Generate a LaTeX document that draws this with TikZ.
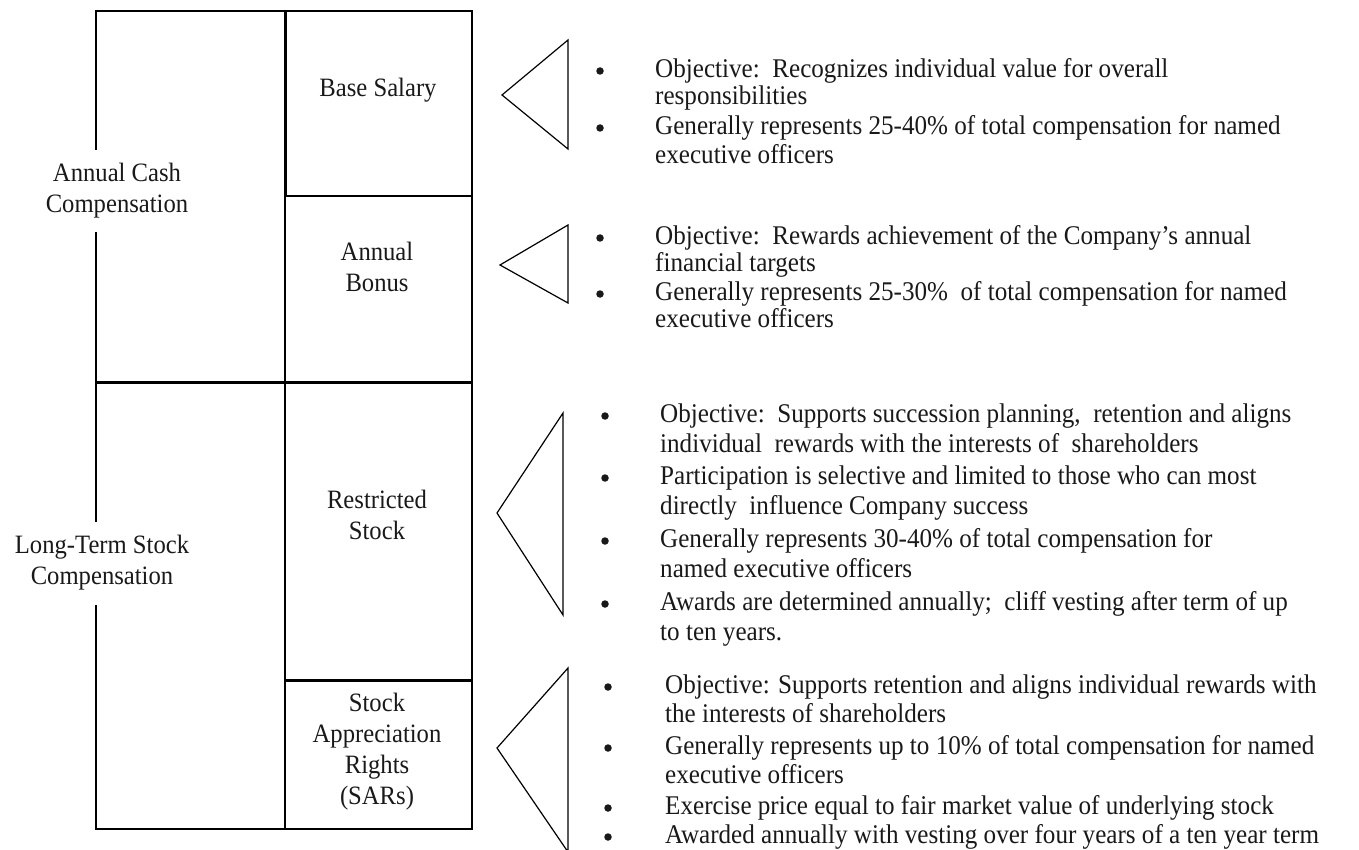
\documentclass[tikz,border=0pt]{standalone}
\usepackage{fontspec}
\setmainfont[FakeStretch=0.93]{Liberation Serif}
\begin{document}
\begin{tikzpicture}[x=1pt,y=-1pt,
  boxline/.style={line width=1.4pt},
  thickline/.style={line width=3pt},
  tri/.style={line width=1.2pt, line join=miter},
  lbl/.style={font=\fontsize{26.5}{31}\selectfont, align=center, inner sep=0pt, text=black!90},
  sidelbl/.style={lbl, fill=white, inner xsep=3pt},
  txt/.style={font=\fontsize{27}{30}\selectfont, anchor=mid west, inner sep=0pt, text=black!90, yshift=-5pt},
  bul/.style={circle, fill=black!90, inner sep=0pt, minimum size=7.5pt, yshift=-1pt}
]
\useasboundingbox (0,0) rectangle (1359,850);
\fill[white] (0,0) rectangle (1359,850);

% ---- left block of boxes ----
\draw[boxline] (96,11) rectangle (472,829);
\draw[boxline] (285,11) -- (285,829);
\draw[boxline] (285,196) -- (472,196);
\draw[thickline] (285,11) -- (285,196);
\draw[thickline] (96,382) -- (472,382);
\draw[thickline] (285,680) -- (472,680);

\node[lbl] (base) at (378,90) {Base Salary};
\node[lbl] (bonus) at (377,267) {Annual\\Bonus};
\node[lbl] (rstock) at (377,515) {Restricted\\Stock};
\node[lbl] (sars) at (377,752) {Stock\\Appreciation\\Rights\\(SARs)};

\node[sidelbl, minimum height=82pt] (cash) at (117,191) {Annual Cash\\Compensation};
\node[sidelbl, minimum height=83pt] (ltsc) at (102,563) {Long-Term Stock\\Compensation};

% ---- triangles ----
\draw[tri] (568,40) -- (502,95) -- (568,149) -- cycle;
\draw[tri] (568,225) -- (500,265) -- (568,303) -- cycle;
\draw[tri] (563,413) -- (497,513) -- (563,615) -- cycle;
\draw[tri] (568,668) -- (497,748) -- (568,852) -- cycle;

% ---- group 1 ----
\node[bul] (b11) at (600,70) {};
\node[bul] (b12) at (600,127) {};
\node[txt] (t11) at (655,70) {Objective:\ \ Recognizes individual value for overall};
\node[txt] (t12) at (655,97) {responsibilities};
\node[txt] (t13) at (655,127) {Generally represents 25-40\% of total compensation for named};
\node[txt] (t14) at (655,156) {executive officers};

% ---- group 2 ----
\node[bul] (b21) at (600,237) {};
\node[bul] (b22) at (600,293) {};
\node[txt] (t21) at (655,237) {Objective:\ \ Rewards achievement of the Company’s annual};
\node[txt] (t22) at (655,264) {financial targets};
\node[txt] (t23) at (655,293) {Generally represents 25-30\%\ \ of total compensation for named};
\node[txt] (t24) at (655,320) {executive officers};

% ---- group 3 ----
\node[bul] (b31) at (605,415) {};
\node[bul] (b32) at (605,477) {};
\node[bul] (b33) at (605,540) {};
\node[bul] (b34) at (605,603) {};
\node[txt] (t31) at (660,415) {Objective:\ \ Supports succession planning,\ \ retention and aligns};
\node[txt] (t32) at (660,445) {individual\ \ rewards with the interests of\ \ shareholders};
\node[txt] (t33) at (660,477) {Participation is selective and limited to those who can most};
\node[txt] (t34) at (660,507) {directly\ \ influence Company success};
\node[txt] (t35) at (660,540) {Generally represents 30-40\% of total compensation for};
\node[txt] (t36) at (660,570) {named executive officers};
\node[txt] (t37) at (660,603) {Awards are determined annually;\ \ cliff vesting after term of up};
\node[txt] (t38) at (660,633) {to ten years.};

% ---- group 4 ----
\node[bul] (b41) at (608,686) {};
\node[bul] (b42) at (608,747) {};
\node[bul] (b43) at (608,807) {};
\node[bul] (b44) at (608,836) {};
\node[txt] (t41) at (665,686) {Objective: Supports retention and aligns individual rewards with};
\node[txt] (t42) at (665,715) {the interests of shareholders};
\node[txt] (t43) at (665,747) {Generally represents up to 10\% of total compensation for named};
\node[txt] (t44) at (665,776) {executive officers};
\node[txt] (t45) at (665,807) {Exercise price equal to fair market value of underlying stock};
\node[txt] (t46) at (665,836) {Awarded annually with vesting over four years of a ten year term};
\end{tikzpicture}
\end{document}
